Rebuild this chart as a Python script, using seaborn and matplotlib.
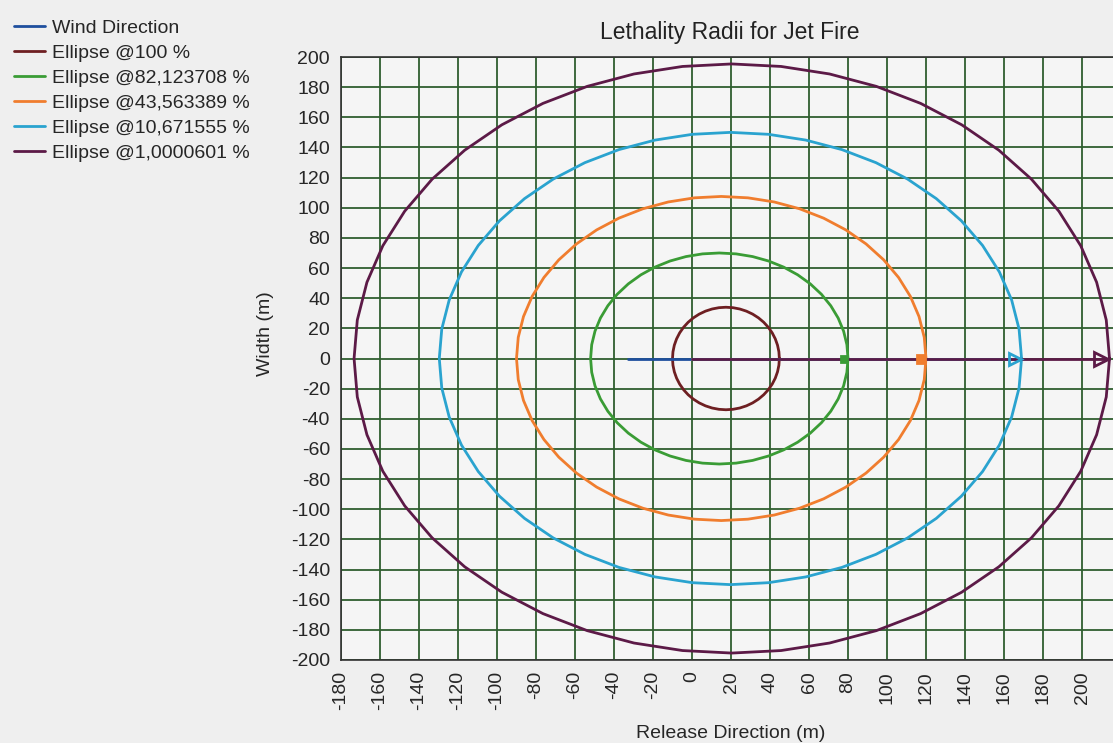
import numpy as np
import pandas as pd
import matplotlib
matplotlib.use("Agg")
import matplotlib.pyplot as plt
import seaborn as sns

# ellipse parameters (metres)
labels = ["Ellipse @100 %", "Ellipse @82,123708 %", "Ellipse @43,563389 %",
          "Ellipse @10,671555 %", "Ellipse @1,0000601 %"]
centre_x = [17.4, 14.0, 15.0, 19.7, 20.4]
semi_x = [27.4, 66.0, 105.0, 149.3, 193.7]
semi_y = [34.0, 70.0, 107.5, 150.0, 195.4]
colors = ["#6e1f22", "#3a9c35", "#f07d2e", "#2aa3cf", "#5c1a47"]
# end marker per ellipse (None = hidden)
marker_style = [None, "s", "s", ">", ">"]
marker_size = [0, 4, 6, 8, 10]

wind_x = [-33, 0]
wind_y = [0, 0]

sns.set_style("white")
plt.rcParams["font.family"] = ["Liberation Sans", "DejaVu Sans"]

fig = plt.figure(figsize=(11.13, 7.43), dpi=100, facecolor="#efefef")
ax = fig.add_axes([341 / 1113, 1 - 660 / 743, (1121 - 341) / 1113, (660 - 57) / 743])
ax.set_facecolor("#f5f5f5")

handles = []
h = ax.plot(wind_x, wind_y, color="#1f4f9e", lw=2, zorder=5)[0]
handles.append(h)

n = 49
for i in range(len(labels)):
    t = np.linspace(0, 2 * np.pi, n)
    ex = centre_x[i] + semi_x[i] * np.cos(t)
    ey = semi_y[i] * np.sin(t)
    df = pd.DataFrame({"x": ex, "y": ey})
    sns.lineplot(data=df, x="x", y="y", sort=False, estimator=None,
                 color=colors[i], lw=2, ax=ax, zorder=4)
    handles.append(ax.lines[-1])

# downwind axis lines with end markers
for i in range(len(labels)):
    xmax = centre_x[i] + semi_x[i]
    ax.plot([0, xmax], [0, 0], color=colors[i], lw=2, zorder=6)
    if marker_style[i] is not None:
        filled = marker_style[i] == "s"
        ax.plot([xmax - marker_size[i] * 0.45], [0], marker=marker_style[i], ms=marker_size[i],
                mfc=colors[i] if filled else "none", mec=colors[i], mew=2, zorder=7)

ax.set_xlim(-180, 220)
ax.set_ylim(-200, 200)
ax.set_xlabel("")
ax.set_ylabel("")
ax.set_xticks(np.arange(-180, 221, 20))
ax.set_yticks(np.arange(-200, 201, 20))
ax.set_xticklabels([str(v) for v in range(-180, 221, 20)], rotation=90, fontsize=14)
ax.set_yticklabels([str(v) for v in range(-200, 201, 20)], fontsize=14)
ax.grid(True, color="#2f5e2f", lw=1.3)
ax.tick_params(axis="both", direction="out", length=6, width=1, color="#333333", pad=2)
for s in ax.spines.values():
    s.set_color("#333333")
    s.set_linewidth(1.2)

fig.text(730 / 1113, 1 - 33 / 743, "Lethality Radii for Jet Fire", ha="center", va="center",
         fontsize=16.5, color="#222222")
fig.text(265 / 1113, 1 - 334 / 743, "Width (m)", ha="center", va="center", rotation=90, fontsize=14)
fig.text(731 / 1113, 1 - 733 / 743, "Release Direction (m)", ha="center", va="center", fontsize=14)

fig.legend(handles, ["Wind Direction"] + labels, loc="upper left", bbox_to_anchor=(-0.003, 0.998),
           frameon=False, fontsize=14, handlelength=1.6, handletextpad=0.35, labelspacing=0.38)

fig.savefig("out.png", dpi=100, facecolor=fig.get_facecolor())
